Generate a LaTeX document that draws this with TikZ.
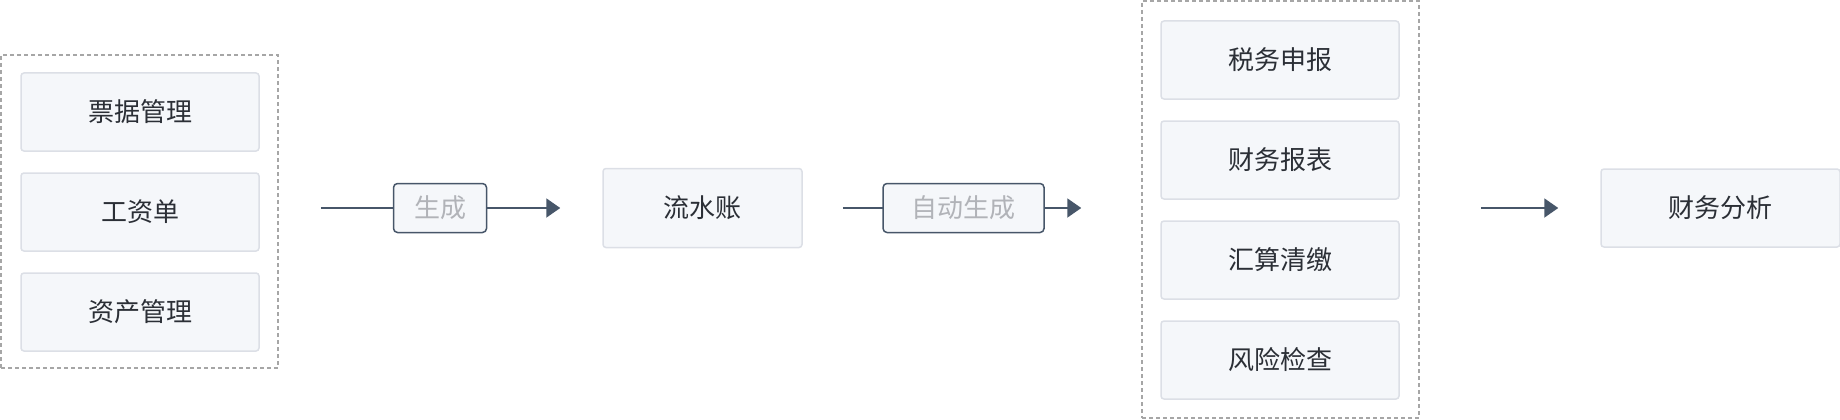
\documentclass[tikz,border=0pt]{standalone}
\usepackage{fontspec}
\setmainfont{Noto Sans CJK SC}
\usetikzlibrary{arrows.meta}
\definecolor{boxfill}{HTML}{F5F7FA}
\definecolor{boxline}{HTML}{DCDFE6}
\definecolor{txt}{HTML}{2B2F36}
\definecolor{slate}{HTML}{475669}
\definecolor{lbltxt}{HTML}{B1B3B8}
\definecolor{dashc}{HTML}{A6A6A6}
\tikzset{
  item/.style={draw=boxline, line width=1.5pt, fill=boxfill, rounded corners=3pt,
    minimum width=238pt, minimum height=78pt, inner sep=0pt,
    font=\fontsize{26pt}{26pt}\selectfont, text=txt},
  grp/.style={draw=dashc, line width=1.5pt, dash pattern=on 4pt off 3pt, inner sep=0pt},
  lbl/.style={draw=slate, line width=1.5pt, fill=boxfill, rounded corners=4pt,
    minimum height=49pt, inner sep=0pt, font=\fontsize{26pt}{26pt}\selectfont, text=lbltxt},
  flow/.style={draw=slate, line width=2pt, -{Triangle[length=14pt,width=19pt]}}
}
\begin{document}
\begin{tikzpicture}[x=1pt,y=-1pt]
\useasboundingbox (0,0) rectangle (1840,420);
% left group
\node[item] (pj) at (140,112) {票据管理};
\node[item] (gz) at (140,212) {工资单};
\node[item] (zc) at (140,312) {资产管理};
\node[grp, minimum width=277pt, minimum height=313pt] (lg) at (139.5,211.5) {};
% middle
\node[item, minimum width=199pt, minimum height=79pt] (lsz) at (702.5,208) {流水账};
% right group
\node[item] (sw) at (1280,60) {税务申报};
\node[item] (cb) at (1280,160) {财务报表};
\node[item] (hs) at (1280,260) {汇算清缴};
\node[item] (fx) at (1280,360) {风险检查};
\node[grp, minimum width=277pt, minimum height=417pt] (rg) at (1280.5,209.5) {};
% analysis
\node[item, minimum width=239pt] (fa) at (1720.5,208) {财务分析};
% connectors
\draw[flow, shorten <=42pt, shorten >=42pt] (lg.east |- lsz.west) -- node[lbl, minimum width=93pt, pos=0.4985] (l1) {生成} (lsz.west);
\draw[flow, shorten <=40pt, shorten >=60pt] (lsz.east) -- node[lbl, minimum width=161pt, pos=0.475] (l2) {自动生成} (rg.west |- lsz.east);
\draw[flow, shorten <=61pt, shorten >=42pt] (rg.east |- fa.west) -- (fa.west);
\end{tikzpicture}
\end{document}
